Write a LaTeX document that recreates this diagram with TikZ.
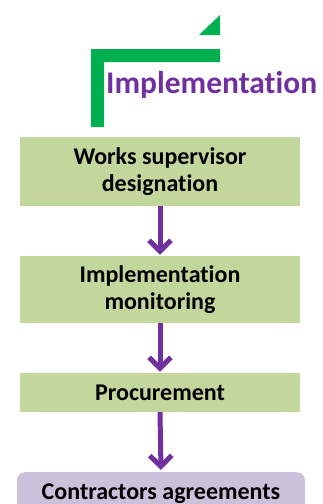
\documentclass[tikz,border=0pt]{standalone}
\usepackage{fontspec}
\setmainfont[Ligatures={NoCommon}]{Carlito}
\usetikzlibrary{arrows.meta}
\definecolor{boxgreen}{HTML}{C3D69B}
\definecolor{boxlav}{HTML}{CCC1DA}
\definecolor{arrpurple}{HTML}{7030A0}
\definecolor{brgreen}{HTML}{00B050}
\tikzset{
  stepbox/.style={fill=boxgreen, draw=none, minimum width=280pt, inner sep=0pt,
    align=center, font=\fontsize{24}{27}\selectfont\bfseries, text=black},
  flowarrow/.style={draw=arrpurple, line width=5pt,
    -{Straight Barb[length=11pt,width=22pt]}},
}
\begin{document}
\begin{tikzpicture}[x=1pt,y=-1pt]
\useasboundingbox (0,0) rectangle (322,504);
\clip (0,0) rectangle (322,504);
% green bracket and triangle
\fill[brgreen] (91,49) -- (220,49) -- (220,62) -- (104,62) -- (104,127) -- (91,127) -- cycle;
\fill[brgreen] (220,15) -- (220,35) -- (199,35) -- cycle;
\node[anchor=base west, inner sep=0pt, text=arrpurple,
  font=\fontsize{31.5}{34}\selectfont\bfseries] (title) at (106,93) {Implementation};
% boxes
\node[stepbox, minimum height=69pt] (b1) at (160,171.5) {Works supervisor\\designation};
\node[stepbox, minimum height=67pt] (b2) at (160,289.5) {Implementation\\monitoring};
\node[stepbox, minimum height=39pt] (b3) at (160,392.5) {Procurement};
\node[fill=boxlav, rounded corners=8pt, anchor=north, minimum width=288pt,
  inner xsep=0pt, inner ysep=0pt, text height=27pt, text depth=33pt,
  font=\fontsize{24}{27}\selectfont\bfseries] (b4) at (161,472) {Contractors agreements};
% arrows
\draw[flowarrow] (b1.south) -- ([yshift=1pt]b2.north);
\draw[flowarrow] (b2.south) -- ([yshift=1pt]b3.north);
\draw[flowarrow] (b3.south) -- ([yshift=2pt]b4.north);
\end{tikzpicture}
\end{document}
